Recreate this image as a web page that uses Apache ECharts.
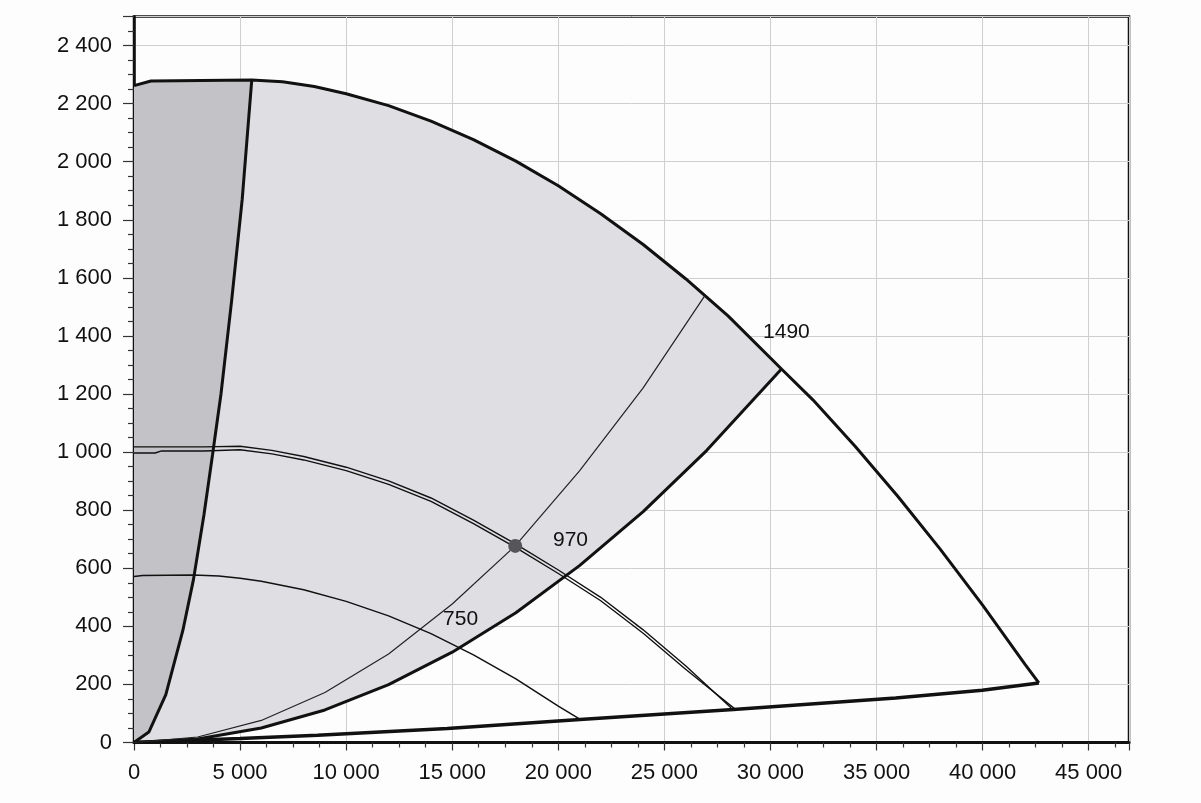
<!DOCTYPE html>
<html><head><meta charset="utf-8">
<script src="https://cdn.jsdelivr.net/npm/echarts@6/dist/echarts.min.js"></script>
<style>html,body{margin:0;padding:0;background:#fdfdfd}#c{width:1201px;height:803px}</style>
</head><body><div id="c"></div>
<script>
// ---- data (flow, pressure) ----
const xTicks = [0, 5000, 10000, 15000, 20000, 25000, 30000, 35000, 40000, 45000];
const yTicks = [0, 200, 400, 600, 800, 1000, 1200, 1400, 1600, 1800, 2000, 2200, 2400];

// max speed curve (1490)
const curve1490 = [[0,2262],[800,2278],[5550,2281],[7000,2275],[8500,2259],[10000,2234],[12000,2193],[14000,2140],[16000,2076],[18000,2002],[20000,1917],[22000,1821],[24000,1715],[26000,1597],[28000,1469],[30520,1286],[32000,1180],[34000,1019],[36000,848],[38000,666],[40000,473],[42000,269],[42650,205]];
// steep limit curve (left boundary of light zone)
const steepLimit = [[0,0],[700,36],[1500,165],[2300,385],[2800,560],[3300,785],[3700,990],[4100,1200],[4600,1520],[5100,1870],[5550,2281]];
// thick system curve (lower boundary of light zone)
const systemBoundary = [[0,0],[3000,12],[6000,50],[9000,112],[12000,199],[15000,311],[18000,447],[21000,609],[24000,795],[27000,1006],[30520,1286]];
// thin system curve through operating point
const systemOperating = [[0,0],[3000,19],[6000,76],[9000,172],[12000,305],[15000,477],[17970,677],[21000,935],[24000,1221],[26900,1538]];
// bottom limit line
const bottomLimit = [[0,0],[5000,14],[8650,25],[14770,48],[21200,80],[28250,114],[35900,153],[39980,180],[42650,205]];
// 970 curve (double line)
const curve970a = [[0,1018],[3300,1018],[5000,1020],[6500,1006],[8000,985],[10000,948],[12000,901],[14000,842],[16000,766],[18000,683],[20000,594],[22000,500],[24000,388],[26000,264],[28150,119]];
const curve970b = [[0,997],[1000,997],[1300,1004],[3300,1004],[5000,1008],[6500,994],[8000,973],[10000,936],[12000,889],[14000,830],[16000,754],[18000,671],[20000,582],[22000,488],[24000,376],[26000,252],[28350,114]];
// 750 curve
const curve750 = [[0,572],[400,575],[2800,577],[4000,573],[5000,566],[6000,555],[8000,526],[10000,486],[12000,436],[14000,375],[16000,302],[18000,219],[20000,125],[21050,79]];
const operatingPoint = [[17970,677]];
const speedLabels = [['1490',29650,1413],['970',19750,698],['750',14570,425]];

// ---- derived polygons ----
const topUpTo = (u) => curve1490.filter(p => p[0] <= u);
const topBetween = (a, b) => curve1490.filter(p => p[0] > a && p[0] <= b);
const darkZone = [...topUpTo(5550), ...steepLimit.slice().reverse()];
const lightZone = [...steepLimit, ...topBetween(5550, 30520), ...systemBoundary.slice().reverse()];

const fmt = v => String(v).replace(/\B(?=(\d{3})+(?!\d))/g, ' ');
const FONT = 'Liberation Sans, Arial, sans-serif';

function zone(points, color) {
  return {
    type: 'custom', silent: true, clip: true, z: 1,
    data: [[0, 0]],
    renderItem: (params, api) => ({
      type: 'polygon',
      shape: { points: points.map(p => api.coord(p)) },
      style: { fill: color, stroke: null }
    })
  };
}
function line(data, width, color) {
  return { type: 'line', data, symbol: 'none', smooth: false, silent: true, z: 3,
    lineStyle: { width, color: color || '#111' } };
}

const chart = echarts.init(document.getElementById('c'), null, { renderer: 'canvas' });
chart.setOption({
  animation: false,
  backgroundColor: '#fdfdfd',
  grid: { left: 134, right: 72, top: 16.5, bottom: 60.5, show: true, borderColor: '#111', borderWidth: 2.5, backgroundColor: 'transparent' },
  xAxis: {
    type: 'value', min: 0, max: 46900, interval: 5000,
    axisLine: { show: true, onZero: false, lineStyle: { color: '#111', width: 3 } },
    axisTick: { show: true, length: 8, lineStyle: { color: '#333', width: 1.2 } },
    minorTick: { show: true, splitNumber: 4, length: 5, lineStyle: { color: '#333', width: 1.2 } },
    splitLine: { show: true, lineStyle: { color: '#cfcfcf', width: 1 } },
    axisLabel: { margin: 19, fontSize: 22, fontFamily: FONT, color: '#111',
      formatter: v => xTicks.includes(v) ? fmt(v) : '' }
  },
  yAxis: {
    type: 'value', min: 0, max: 2500, interval: 200,
    axisLine: { show: true, onZero: false, lineStyle: { color: '#111', width: 2.5 } },
    axisTick: { show: true, length: 11, lineStyle: { color: '#333', width: 1.2 } },
    minorTick: { show: true, splitNumber: 4, length: 6, lineStyle: { color: '#333', width: 1.2 } },
    splitLine: { show: true, lineStyle: { color: '#cfcfcf', width: 1 } },
    axisLabel: { margin: 22, fontSize: 22, fontFamily: FONT, color: '#111',
      formatter: v => yTicks.includes(v) ? fmt(v) : '' }
  },
  series: [
    zone(darkZone, '#c2c2c7'),
    zone(lightZone, '#dfdfe3'),
    line(bottomLimit, 3.5),
    line(systemBoundary, 3),
    line(steepLimit, 3),
    line(curve1490, 3),
    line(systemOperating, 1.2, '#222'),
    line(curve750, 1.5, '#111'),
    line(curve970a, 1.4, '#111'),
    line(curve970b, 1.4, '#111'),
    { type: 'scatter', data: operatingPoint, symbolSize: 14, z: 5, silent: true,
      itemStyle: { color: '#55555a', opacity: 1 } },
    { type: 'scatter', symbolSize: 0, z: 6, silent: true,
      itemStyle: { opacity: 1 },
      data: speedLabels.map(s => ({ value: [s[1], s[2]], name: s[0] })),
      label: { show: true, position: 'right', distance: 0, formatter: p => p.name,
        fontSize: 21, fontFamily: FONT, color: '#111', opacity: 1 } }
  ]
});
</script></body></html>
